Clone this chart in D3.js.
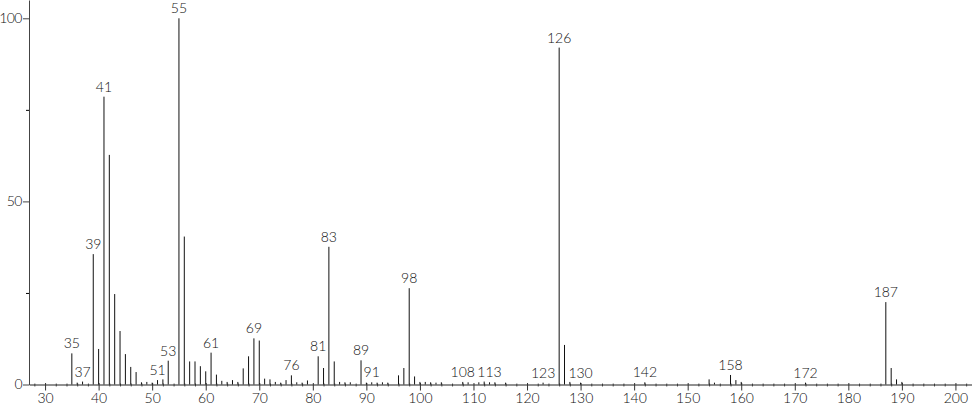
<!DOCTYPE html>
<html>
<head>
<meta charset="utf-8">
<script src="https://cdn.jsdelivr.net/npm/d3@7"></script>
<style>
  body { margin: 0; background: #fff; }
  text { font-family: Lato, "DejaVu Sans", sans-serif; font-weight: 300; }
</style>
</head>
<body>
<div id="my_dataviz"></div>
<script>
// mass spectrum: m/z and relative intensity (%)
const mz = [35, 36, 37, 39, 40, 41, 42, 43, 44, 45, 46, 47, 48, 49, 50, 51, 52, 53,
  55, 56, 57, 58, 59, 60, 61, 62, 63, 64, 65, 66, 67, 68, 69, 70, 71, 72, 73, 74, 75,
  76, 77, 78, 79, 81, 82, 83, 84, 85, 86, 87, 89, 90, 91, 92, 93, 94, 96, 97, 98, 99,
  100, 101, 102, 103, 104, 108, 109, 111, 112, 113, 114, 116, 123, 126, 127, 128, 130,
  142, 154, 155, 158, 159, 160, 172, 187, 188, 189, 190]
const intensity = [8.5, 0.5, 0.8, 35.6, 9.7, 78.6, 62.7, 24.7, 14.6, 8.3, 4.8, 3.4, 0.6, 0.7, 0.5, 1.2, 1.4, 6.5,
  100, 40.4, 6.3, 6.3, 5.0, 3.6, 8.7, 2.7, 1.0, 0.7, 1.2, 0.7, 4.4, 7.7, 12.6, 12.0, 1.6, 1.4, 0.7, 0.5, 1.2,
  2.5, 0.6, 0.5, 1.1, 7.7, 4.5, 37.6, 6.3, 0.7, 0.6, 0.6, 6.6, 0.5, 0.6, 0.5, 0.6, 0.5, 2.5, 4.5, 26.3, 2.2,
  0.7, 0.7, 0.6, 0.5, 0.6, 0.7, 0.6, 0.6, 0.8, 0.6, 0.6, 0.5, 0.5, 92.0, 10.8, 0.7, 0.5,
  0.6, 1.4, 0.5, 2.6, 1.2, 0.7, 0.5, 22.5, 4.5, 1.4, 0.7]
// peaks that carry a label
const labelled = [35, 37, 39, 41, 51, 53, 55, 61, 69, 76, 81, 83, 89, 91, 98, 108, 113,
  123, 126, 130, 142, 158, 172, 187]

const xTicks = [30, 40, 50, 60, 70, 80, 90, 100, 110, 120, 130, 140, 150, 160, 170, 180, 190, 200]
const yTicks = [0, 50, 100]
const yMinorTicks = [25, 75]

const width = 974
const height = 406

const svg = d3.select("#my_dataviz")
  .append("svg")
    .attr("width", width)
    .attr("height", height)

const x = d3.scaleLinear().domain([27, 203]).range([29, 971.5])
const y = d3.scaleLinear().domain([0, 105]).range([384.5, 0])

const data = mz.map((m, i) => ({ mz: m, v: intensity[i] }))

// minor x ticks every 2 units
const minor = svg.append("g")
  .attr("transform", `translate(0,${y(0)})`)
  .call(d3.axisBottom(x).tickValues(d3.range(28, 203, 2).filter(d => d % 10 != 0)).tickSize(2).tickFormat(""))
minor.select(".domain").remove()
minor.selectAll(".tick line").attr("y1", -1).attr("stroke", "#555")

const xAxis = svg.append("g")
  .attr("transform", `translate(0,${y(0)})`)
  .call(d3.axisBottom(x).tickValues(xTicks).tickSizeInner(6).tickSizeOuter(0).tickPadding(3))
xAxis.select(".domain").attr("stroke", "#222")
xAxis.selectAll(".tick line").attr("y1", -1.5).attr("stroke", "#333")
xAxis.selectAll("text").style("font-size", "14px").attr("fill", "#111")

const yMinor = svg.append("g")
  .attr("transform", `translate(${x(27)},0)`)
  .call(d3.axisLeft(y).tickValues(yMinorTicks).tickSize(3).tickFormat(""))
yMinor.select(".domain").remove()

const yAxis = svg.append("g")
  .attr("transform", `translate(${x(27)},0)`)
  .call(d3.axisLeft(y).tickValues(yTicks).tickSizeInner(6).tickSizeOuter(0).tickPadding(1))
yAxis.select(".domain").attr("stroke", "#444")
yAxis.selectAll(".tick line").attr("stroke", "#444")
yAxis.selectAll("text").style("font-size", "14px").style("letter-spacing", "-0.5px").attr("fill", "#111")

// peaks
svg.append("g")
  .selectAll("line")
  .data(data)
  .join("line")
    .attr("x1", d => x(d.mz))
    .attr("x2", d => x(d.mz))
    .attr("y1", y(0))
    .attr("y2", d => y(d.v))
    .attr("stroke", "#111")
    .attr("stroke-width", 1)

// peak labels
svg.append("g")
  .selectAll("text")
  .data(data.filter(d => labelled.includes(d.mz)))
  .join("text")
    .attr("x", d => x(d.mz))
    .attr("y", d => y(d.v) - 5)
    .attr("text-anchor", "middle")
    .style("font-size", "14px")
    .attr("fill", "#111")
    .text(d => d.mz)
</script>
</body>
</html>
